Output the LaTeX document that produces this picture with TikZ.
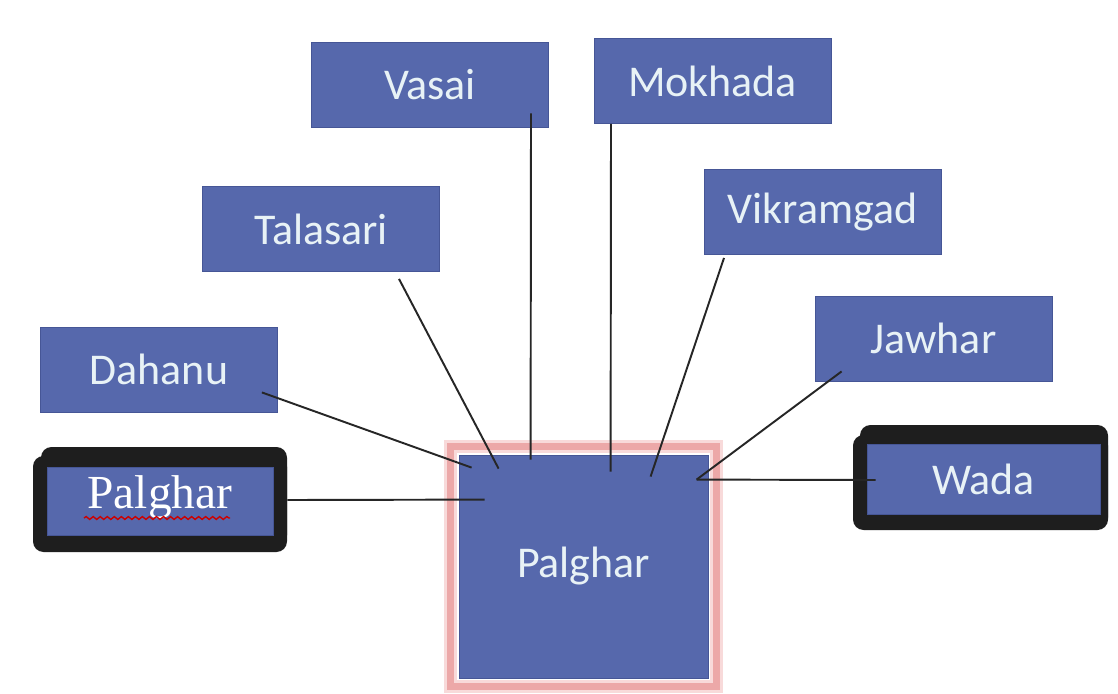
\documentclass[tikz,border=0pt]{standalone}
\usepackage{fontspec}
\setmainfont{Carlito}
\newfontfamily\serifface{Liberation Serif}
\usepackage{xcolor}
\definecolor{talukablue}{RGB}{86,104,172}
\definecolor{talukaedge}{RGB}{70,86,150}
\definecolor{talukatext}{RGB}{232,242,246}
\definecolor{hubpink}{RGB}{236,168,168}
\definecolor{hubhalo}{RGB}{248,218,218}
\definecolor{framegray}{RGB}{30,30,30}
\usetikzlibrary{decorations.pathmorphing}

\begin{document}
\begin{tikzpicture}[x=0.02cm, y=-0.02cm,
    taluka/.style={fill=talukablue, draw=talukaedge, line width=0.5pt,
      minimum width=4.74cm, minimum height=1.7cm, inner sep=0pt,
      text=talukatext, font=\fontsize{25}{29}\selectfont},
    link/.style={draw=black!85, line width=1.1pt}]
  \useasboundingbox[fill=white] (0,0) rectangle (1118,693);

  % black frames behind the two highlighted boxes
  \fill[framegray, rounded corners=6pt] (41,447) rectangle (287,546);
  \fill[framegray, rounded corners=6pt] (33,456) rectangle (287,552);
  \fill[framegray, rounded corners=6pt] (860,425) rectangle (1108,528);
  \fill[framegray, rounded corners=6pt] (853,435) rectangle (1108,530);

  % talukas around the district
  \node[taluka] (vasai) at (430,84.5) {Vasai};
  \node[taluka] (mokhada) at (712.5,81) {Mokhada};
  \node[taluka] (talasari) at (321,229) {Talasari};
  \node[taluka] (vikramgad) at (822.5,212) {Vikramgad};
  \node[taluka] (dahanu) at (159,369.5) {Dahanu};
  \node[taluka] (jawhar) at (933.5,338.5) {Jawhar};
  \node[taluka, minimum width=4.66cm, minimum height=1.4cm] (wada) at (983.5,479) {Wada};
  \node[taluka, minimum width=4.52cm, minimum height=1.36cm,
        font=\serifface\fontsize{27}{30}\selectfont, text=white] (palgharL) at (160,501)
    {\raisebox{-0.14cm}[0pt][0pt]{Palghar}};
  \draw[red!80!black, line width=0.8pt, decorate,
        decoration={snake, amplitude=0.8pt, segment length=4pt}]
    ([shift={(-76,17)}]palgharL.center) -- ([shift={(70,17)}]palgharL.center);

  % district box
  \node[taluka, minimum width=4.98cm, minimum height=4.46cm] (hub) at (583.5,566.5) {Palghar};
  \draw[hubhalo, line width=0.26cm]
    ([shift={(-8,-8)}]hub.north west) rectangle ([shift={(8,8)}]hub.south east);
  \draw[hubpink, line width=0.13cm]
    ([shift={(-8,-8)}]hub.north west) rectangle ([shift={(8,8)}]hub.south east);

  % connectors
  \draw[link] ([shift={(-16,-20)}]dahanu.south east) -- ([shift={(13,13)}]hub.north west);
  \draw[link] ([shift={(78,7)}]talasari.south) -- ([shift={(40,14)}]hub.north west);
  \draw[link] ([shift={(101,-14)}]vasai.south) -- ([shift={(72,5)}]hub.north west);
  \draw[link] ([shift={(-101.5,0)}]mokhada.south) -- ([shift={(152,17)}]hub.north west);
  \draw[link] ([shift={(-98.5,3)}]vikramgad.south) -- ([shift={(192,22)}]hub.north west);
  \draw[link] ([shift={(27,-10)}]jawhar.south west) -- ([shift={(238,25)}]hub.north west);
  \draw[link] ([shift={(9,1)}]wada.west) -- ([shift={(238,25)}]hub.north west);
  \draw[link] ([shift={(14,-1)}]palgharL.east) -- ([shift={(26,45)}]hub.north west);
\end{tikzpicture}
\end{document}
